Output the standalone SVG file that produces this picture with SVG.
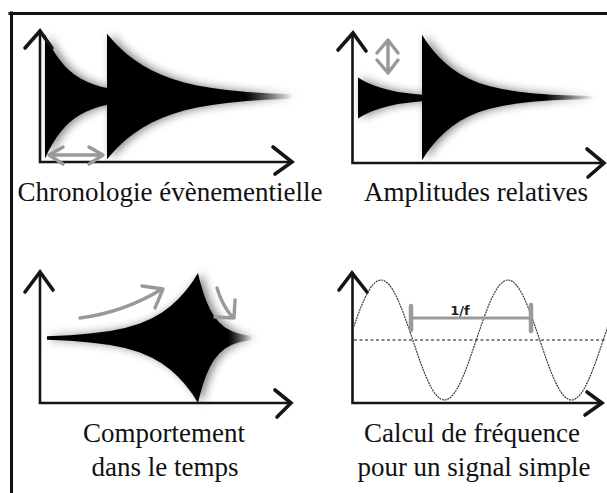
<svg xmlns="http://www.w3.org/2000/svg" width="607" height="493" viewBox="0 0 607 493">
<style>
.frame{fill:none;stroke:#111;stroke-width:3;stroke-linecap:square}
.axis{fill:none;stroke:#151515;stroke-width:2.6;stroke-linecap:round}
.head{fill:none;stroke:#151515;stroke-width:3.6;stroke-linecap:round;stroke-linejoin:miter}
.grey{fill:none;stroke:#999;stroke-width:3.4;stroke-linecap:round;stroke-linejoin:round}
.env{filter:url(#shadow)}
.label{font-size:27px;fill:#111;text-anchor:middle}
.sine{fill:none;stroke:#3a3a3a;stroke-width:1.2;stroke-dasharray:2 0.8}
.dash{fill:none;stroke:#111;stroke-width:1;stroke-dasharray:3 2.5}
</style>
<defs>
<filter id="shadow" x="-20%" y="-30%" width="150%" height="160%">
<feGaussianBlur in="SourceAlpha" stdDeviation="5" result="b"/>
<feOffset in="b" dx="4" dy="0" result="o"/>
<feComponentTransfer in="o" result="s"><feFuncA type="linear" slope="0.5"/></feComponentTransfer>
<feMerge><feMergeNode in="s"/><feMergeNode in="SourceGraphic"/></feMerge>
</filter>
<linearGradient id="fade1" gradientUnits="userSpaceOnUse" x1="245" y1="0" x2="293" y2="0">
<stop offset="0" stop-color="#000"/><stop offset="1" stop-color="#000" stop-opacity="0"/>
</linearGradient>
<linearGradient id="fade2" gradientUnits="userSpaceOnUse" x1="545" y1="0" x2="594" y2="0">
<stop offset="0" stop-color="#000"/><stop offset="1" stop-color="#000" stop-opacity="0"/>
</linearGradient>
<linearGradient id="fade3" gradientUnits="userSpaceOnUse" x1="228" y1="0" x2="253" y2="0">
<stop offset="0" stop-color="#000"/><stop offset="1" stop-color="#000" stop-opacity="0"/>
</linearGradient>
<clipPath id="clip4"><rect x="354" y="260" width="253" height="150"/></clipPath>
</defs>

<g id="frame">
<path class="frame" d="M10,13.5 L607,13.5 M11.5,13 L11.5,493"/>
</g>

<g id="panel-chronologie">
<path class="env" fill="#000" d="M45,34.5 L49,42.9 L53,50.1 L57,56.3 L61,61.6 L65,66.2 L70,71 L75,74.9 L81,78.7 L87,81.8 L94,84.5 L101,86.7 L107,88.1 L107,104.9 L101,106.3 L94,108.5 L87,111.2 L81,114.3 L75,118.1 L70,122 L65,126.8 L61,131.4 L57,136.7 L53,142.9 L49,150.1 L45,158.5 Z"/>
<path class="env" fill="url(#fade1)" d="M107,33.7 L112,39.6 L117,44.9 L122,49.8 L127,54.2 L135,60.3 L143,65.5 L152,70.5 L162,75.1 L172,78.8 L184,82.4 L197,85.5 L212,88.1 L227,90.1 L247,91.9 L267,93.2 L292,94.2 L292,98.8 L267,99.8 L247,101.1 L227,102.9 L212,104.9 L197,107.5 L184,110.6 L172,114.2 L162,117.9 L152,122.5 L143,127.5 L135,132.7 L127,138.8 L122,143.2 L117,148.1 L112,153.4 L107,159.3 Z"/>
<path class="axis" d="M40,32 L40,162 L290,162"/>
<path class="head" d="M25,48 L40,31 L52,48"/>
<path class="head" d="M273,147 L292,162 L275,174"/>
<path class="grey" d="M49,155 L102,155 M63,147 L49,155 L63,164 M89,147 L103,155 L89,164"/>
<text class="label" font-family="'Liberation Serif', 'DejaVu Serif', serif" x="170" y="201">Chronologie évènementielle</text>
</g>

<g id="panel-amplitudes">
<path class="env" fill="#000" d="M358,77.5 L363,80.5 L368,83 L374,85.6 L380,87.6 L388,89.8 L398,91.9 L410,93.5 L422,94.7 L422,101.3 L410,102.5 L398,104.1 L388,106.2 L380,108.4 L374,110.4 L368,113 L363,115.5 L358,118.5 Z"/>
<path class="env" fill="url(#fade2)" d="M422,34.7 L426,40.9 L430,46.5 L434,51.5 L439,57.1 L445,62.8 L452,68.5 L460,73.9 L469,78.7 L479,82.9 L490,86.3 L502,89.1 L517,91.6 L532,93.3 L552,94.7 L572,95.5 L593,96 L593,99 L572,99.5 L552,100.3 L532,101.7 L517,103.4 L502,105.9 L490,108.7 L479,112.1 L469,116.3 L460,121.1 L452,126.5 L445,132.2 L439,137.9 L434,143.5 L430,148.5 L426,154.1 L422,160.3 Z"/>
<path class="axis" d="M352.5,34 L352.5,163 L602,163"/>
<path class="head" d="M338,50 L353,33 L366,51"/>
<path class="head" d="M587,149 L604,163 L588,177"/>
<path class="grey" d="M388,41 L388,72 M377,53 L388,40 L398,53 M377,60 L388,73 L398,60"/>
<text class="label" font-family="'Liberation Serif', 'DejaVu Serif', serif" x="476" y="201">Amplitudes relatives</text>
</g>

<g id="panel-comportement">
<path class="env" fill="url(#fade3)" d="M47,336.2 L70,335.2 L90,333.6 L110,331 L125,328 L140,323.4 L152,318.2 L162,312.4 L171,305.8 L178,299.3 L184,292.8 L189,286.6 L193,280.9 L196,276.3 L198,273 L200,281.3 L203,291.8 L206,300.3 L210,309.3 L214,316 L219,322.3 L225,327.4 L232,331.2 L240,333.9 L252,335.9 L252,340.1 L240,342.1 L232,344.8 L225,348.6 L219,353.7 L214,360 L210,366.7 L206,375.7 L203,384.2 L200,394.7 L198,403 L196,399.7 L193,395.1 L189,389.4 L184,383.2 L178,376.7 L171,370.2 L162,363.6 L152,357.8 L140,352.6 L125,348 L110,345 L90,342.4 L70,340.8 L47,339.8 Z"/>
<path class="axis" d="M40,273 L40,403 L289,403"/>
<path class="head" d="M25,292 L40,272 L53,290"/>
<path class="head" d="M275,390 L291,403 L277,417"/>
<path class="grey" d="M80,318 Q125,312 162,289 M142,286 L163,289 L155,308"/>
<path class="grey" d="M217,288 Q222,305 233,318 M215,317 L234,318 L235,300"/>
<text class="label" font-family="'Liberation Serif', 'DejaVu Serif', serif" x="164" y="442">Comportement</text>
<text class="label" font-family="'Liberation Serif', 'DejaVu Serif', serif" x="165" y="476">dans le temps</text>
</g>

<g id="panel-frequence">
<path class="dash" d="M354,340 L607,340"/>
<path class="sine" clip-path="url(#clip4)" d="M349.25,340 C359.6,309.26 369.51,280 381,280 C392.49,280 402.4,309.26 412.75,340 C423.1,370.74 433.01,400 444.5,400 C455.99,400 465.9,370.74 476.25,340 C486.6,309.26 496.51,280 508,280 C519.49,280 529.4,309.26 539.75,340 C550.1,370.74 560.01,400 571.5,400 C582.99,400 592.9,370.74 603.25,340 C613.6,309.26 623.51,280 635,280"/>
<path fill="none" stroke="#9a9a9a" stroke-width="3" d="M411,318 L531,318"/>
<path fill="none" stroke="#9a9a9a" stroke-width="4.5" stroke-linecap="round" d="M411,306 L411,330 M531,305 L531,331"/>
<text x="460" y="315" font-family="'DejaVu Sans', sans-serif" font-size="13" font-weight="bold" fill="#222" text-anchor="middle">1/f</text>
<path class="axis" d="M352.5,274 L352.5,403 L601,403"/>
<path class="head" d="M339,290 L352,273 L367,292"/>
<path class="head" d="M587,392 L602,403 L585,415"/>
<text class="label" font-family="'Liberation Serif', 'DejaVu Serif', serif" x="472" y="442">Calcul de fréquence</text>
<text class="label" font-family="'Liberation Serif', 'DejaVu Serif', serif" x="474" y="476">pour un signal simple</text>
</g>
</svg>
